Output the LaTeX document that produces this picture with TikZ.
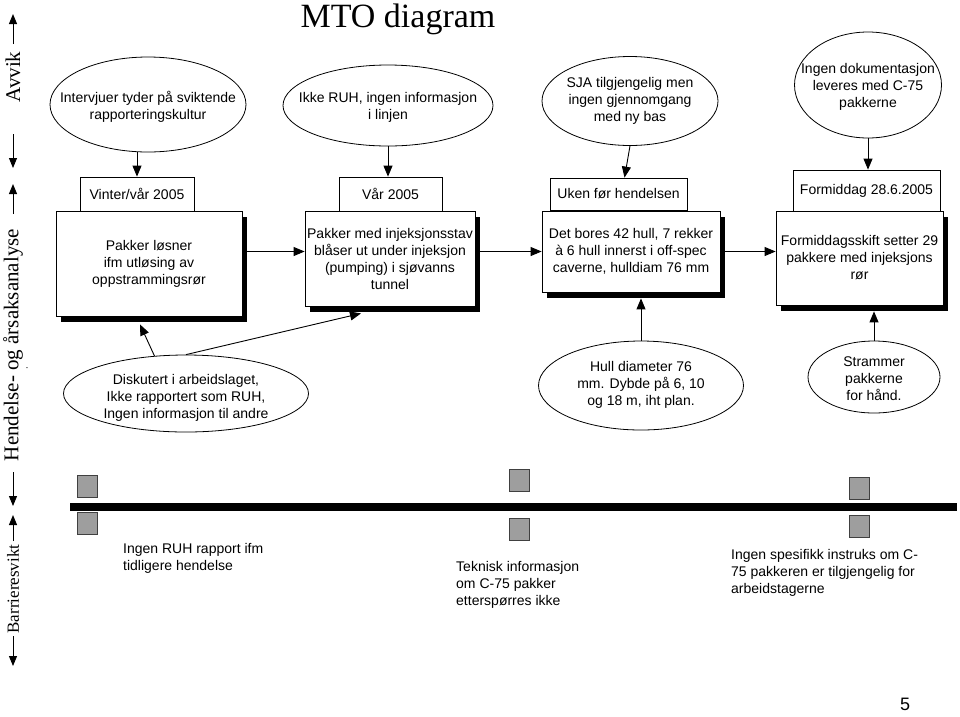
\documentclass[tikz,border=0pt]{standalone}
\usepackage{fontspec}
\setmainfont{Liberation Sans}
\newfontfamily\timesfont{Liberation Serif}
\usetikzlibrary{shapes.geometric,shadows,arrows.meta}

% text inside an ellipse that must not grow the shape (#1 = drop)
\newcommand{\ovaltext}[2][5pt]{\raisebox{-#1}[0pt][0pt]{\makebox[0pt]{\begin{tabular}{@{}c@{}}#2\end{tabular}}}}

\tikzset{
  mtobox/.style={draw, fill=white, line width=0.8pt, align=center, inner sep=0pt,
    drop shadow={shadow xshift=5pt, shadow yshift=-6pt, fill=black, opacity=1}},
  datetab/.style={draw, fill=white, line width=0.8pt, inner sep=0pt},
  cause/.style={ellipse, draw, fill=white, line width=0.8pt, inner sep=0pt},
  barrier/.style={draw=black!75, fill=black!38, line width=0.7pt,
    minimum width=20pt, minimum height=22pt, inner sep=0pt},
  conn/.style={line width=0.9pt, -{Triangle[length=11pt,width=9pt]}},
  axisarrow/.style={line width=1pt, -{Triangle[length=10pt,width=8pt]}},
  note/.style={anchor=base west, align=left, inner sep=0pt},
  sidelabel/.style={rotate=90, font=\timesfont\fontsize{21}{24}\selectfont},
}

\begin{document}
\begin{tikzpicture}[x=1pt, y=-1pt, font=\fontsize{14}{17}\selectfont]
    \useasboundingbox (0,0) rectangle (960,716);

    % Title
    \node[anchor=base, font=\timesfont\fontsize{34}{40}\selectfont] (title) at (398,27) {MTO diagram};

    % Side axis
    \node[sidelabel] (avvik) at (13,77) {Avvik};
    \node[sidelabel] (hendelse) at (13,345) {Hendelse- og årsaksanalyse};
    \node[sidelabel, font=\timesfont\fontsize{17}{20}\selectfont] (barriere) at (13,589) {Barrieresvikt};
    \node[rotate=90, font=\fontsize{10}{12}\selectfont] (dot) at (27,368) {.};
    \draw[axisarrow] (13,44) -- (13,14);
    \draw[axisarrow] (13,134) -- (13,168);
    \draw[axisarrow] (13,214) -- (13,184);
    \draw[axisarrow] (13,472) -- (13,506);
    \draw[axisarrow] (13,541) -- (13,515);
    \draw[axisarrow] (13,636) -- (13,666);

    % Causes (top row)
    \node[cause, minimum width=196pt, minimum height=95pt] (e1) at (148,104.5)
        {\ovaltext[7pt]{Intervjuer tyder på sviktende\\rapporteringskultur}};
    \node[cause, minimum width=210pt, minimum height=81pt] (e2) at (388,105.5)
        {\ovaltext[6pt]{Ikke RUH, ingen informasjon\\i linjen}};
    \node[cause, minimum width=176pt, minimum height=89pt] (e3) at (630,101)
        {\ovaltext[3.5pt]{SJA tilgjengelig men\\ingen gjennomgang\\med ny bas}};
    \node[cause, minimum width=147pt, minimum height=106pt] (e4) at (868,85)
        {\ovaltext[6pt]{Ingen dokumentasjon\\leveres med C-75\\pakkerne}};

    % Date tabs
    \node[datetab, minimum width=114pt, minimum height=34pt] (t1) at (137,194) {Vinter/vår 2005};
    \node[datetab, minimum width=103pt, minimum height=34pt] (t2) at (390.5,194) {Vår 2005};
    \node[datetab, minimum width=137pt, minimum height=32pt] (t3) at (618.5,194) {Uken før hendelsen};
    \node[datetab, minimum width=147pt, minimum height=41pt] (t4) at (866.5,190.5) {Formiddag 28.6.2005};

    % Event boxes
    \node[mtobox, minimum width=186pt, minimum height=105pt] (b1) at (149,263.5)
        {Pakker løsner\\ifm utløsing av\\oppstrammingsrør};
    \node[mtobox, minimum width=170pt, minimum height=95pt] (b2) at (390,258.5)
        {Pakker med injeksjonsstav\\blåser ut under injeksjon\\(pumping) i sjøvanns\\tunnel};
    \node[mtobox, minimum width=178pt, minimum height=81pt] (b3) at (631,251.5)
        {Det bores 42 hull, 7 rekker\\à 6 hull innerst i off-spec\\caverne, hulldiam 76 mm};
    \node[mtobox, minimum width=167pt, minimum height=94pt] (b4) at (859.5,258)
        {Formiddagsskift setter 29\\pakkere med injeksjons\\rør};

    % Causes (lower row)
    \node[cause, minimum width=245pt, minimum height=77pt] (e5) at (186,393.5)
        {\ovaltext[8.5pt]{Diskutert i arbeidslaget,\\Ikke rapportert som RUH,\\Ingen informasjon til andre}};
    \node[cause, minimum width=205pt, minimum height=89pt] (e6) at (641,385.5)
        {\ovaltext[3.5pt]{Hull diameter 76\\mm. Dybde på 6, 10\\og 18 m, iht plan.}};
    \node[cause, minimum width=132pt, minimum height=72pt] (e7) at (874,377)
        {\ovaltext[7pt]{Strammer\\pakkerne\\for hånd.}};

    % Connectors
    \draw[conn] (t1.north |- e1.south) -- (t1.north);
    \draw[conn] (e2.south) -- (e2.south |- t2.north);
    \draw[conn] (e3.south) -- ([xshift=6pt]t3.north);
    \draw[conn] (e4.south) -- (e4.south |- t4.north);
    \draw[conn] (b1.east |- b3.west) -- (b2.west |- b3.west);
    \draw[conn] (b2.east |- b3.west) -- (b3.west);
    \draw[conn] (b3.east) -- (b4.west |- b3.east);
    \coordinate (b1foot) at ([xshift=-9pt,yshift=-8pt]b1.south);
    \coordinate (b2foot) at ([xshift=-29pt,yshift=-7pt]b2.south);
    \coordinate (b3foot) at ([yshift=-6pt]b3.south);
    \coordinate (b4foot) at ([yshift=-6pt]b4.south);
    \draw[conn] (e5.130) -- (b1foot);
    \draw[conn] (e5.north) -- (b2foot);
    \draw[conn] (e6.north) -- (e6.north |- b3foot);
    \draw[conn] (e7.north) -- (e7.north |- b4foot);

    % Barrier line
    \coordinate (lstart) at (70,507);
    \coordinate (lend) at (957,507);
    \draw[line width=8pt] (lstart) -- (lend);

    % Barriers
    \node[barrier] (s1a) at (87,486) {};
    \node[barrier] (s1b) at (87,523.5) {};
    \node[barrier] (s2a) at (519.5,480) {};
    \node[barrier] (s2b) at (519.5,529) {};
    \node[barrier] (s3a) at (859.5,488) {};
    \node[barrier] (s3b) at (859.5,526) {};

    % Barrier notes (anchored on the last line)
    \node[note] (n1) at (123,570) {Ingen RUH rapport ifm\\tidligere hendelse};
    \node[note] (n2) at (456,605) {Teknisk informasjon\\om C-75 pakker\\etterspørres ikke};
    \node[note] (n3) at (731,593) {Ingen spesifikk instruks om C-\\75 pakkeren er tilgjengelig for\\arbeidstagerne};

    % Page number
    \node[font=\fontsize{18}{20}\selectfont] (page) at (905,704) {5};
\end{tikzpicture}
\end{document}
